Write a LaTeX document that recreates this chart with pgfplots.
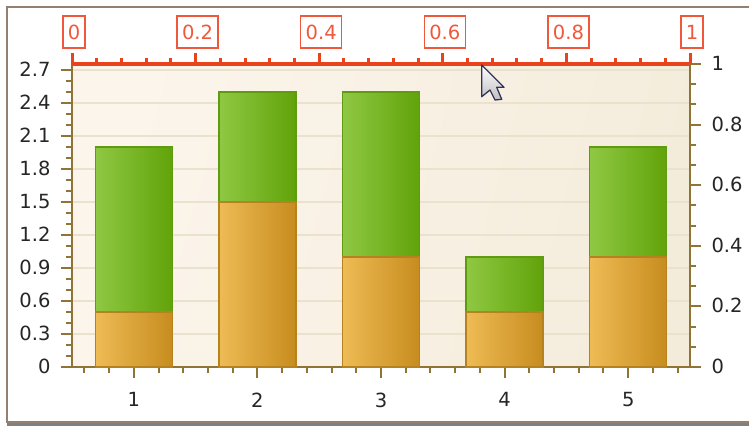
\documentclass[border=0pt]{standalone}
\usepackage{fontspec}
\setmainfont{DejaVu Sans}
\usepackage{pgfplots}
\pgfplotsset{compat=1.18}

\definecolor{axisbrown}{HTML}{8F7436}
\definecolor{gridtan}{HTML}{EAE2CC}
\definecolor{scalered}{HTML}{E8431C}
\definecolor{labelred}{HTML}{F0583C}
\definecolor{greenL}{HTML}{8FC843}
\definecolor{greenR}{HTML}{61A30A}
\definecolor{greenE}{HTML}{5F9A10}
\definecolor{orangeL}{HTML}{EEBB55}
\definecolor{orangeR}{HTML}{C78C1E}
\definecolor{orangeE}{HTML}{B6821F}
\definecolor{bgA}{HTML}{FCF5EC}
\definecolor{bgB}{HTML}{F4ECDB}
\definecolor{frameline}{HTML}{957F6E}

\pgfplotsset{
  panel/.style={
    scale only axis, width=618pt, height=303pt,
    at={(72pt,59pt)}, anchor=south west,
    /pgf/number format/assume math mode=true,
    tick align=outside,
    major tick length=11pt, minor tick length=6pt,
    ticklabel style={font=\fontsize{19.5}{22}\selectfont, text=black!85},
  },
  % each bar is its own plot so that it carries its own left-to-right shading
  upper/.style={draw=greenE, line width=1.5pt, left color=greenL, right color=greenR},
  lower/.style={draw=orangeE, line width=1.5pt, left color=orangeL, right color=orangeR},
}

\begin{document}
\begin{tikzpicture}[x=1pt,y=1pt]
  \path[use as bounding box] (0,0) rectangle (749,426);
  % panel frame with its soft lower edge
  \fill[black!50] (7,0) rectangle (760,5);
  \fill[white] (7,4) rectangle (760,419);
  \draw[frameline,line width=1.6pt] (760,4) -- (7,4) -- (7,419) -- (760,419);

  % bars on the primary axes: stack totals first, lower segments over them
  \begin{axis}[panel,
    axis x line*=bottom, axis y line*=left,
    axis line style={-, draw=axisbrown, line width=2pt},
    every tick/.style={draw=axisbrown, line width=2pt},
    minor tick style={draw=axisbrown, line width=2pt},
    xmin=0.5, xmax=5.5, ymin=0, ymax=2.7545,
    xtick={1,2,3,4,5},
    minor xtick={0.6,0.8,1.2,1.4,1.6,1.8,2.2,2.4,2.6,2.8,3.2,3.4,3.6,3.8,4.2,4.4,4.6,4.8,5.2,5.4},
    ytick={0,0.3,0.6,0.9,1.2,1.5,1.8,2.1,2.4,2.7},
    yticklabels={0,0.3,0.6,0.9,1.2,1.5,1.8,2.1,2.4,2.7},
    minor ytick={0.1,0.2,0.4,0.5,0.7,0.8,1.0,1.1,1.3,1.4,1.6,1.7,1.9,2.0,2.2,2.3,2.5,2.6},
    xticklabel style={yshift=-11pt},
    yticklabel style={xshift=-7pt, yshift=0.5pt},
    ymajorgrids,
    grid style={draw=gridtan, line width=2pt},
    axis background/.style={left color=bgA, right color=bgB, shading angle=75},
    ybar, bar width=77pt, bar shift=0pt,
  ]
    \addplot[upper] coordinates {(1,2)};
    \addplot[upper] coordinates {(2,2.5)};
    \addplot[upper] coordinates {(3,2.5)};
    \addplot[upper] coordinates {(4,1)};
    \addplot[upper] coordinates {(5,2)};
    \addplot[lower] coordinates {(1,0.5)};
    \addplot[lower] coordinates {(2,1.5)};
    \addplot[lower] coordinates {(3,1)};
    \addplot[lower] coordinates {(4,0.5)};
    \addplot[lower] coordinates {(5,1)};
  \end{axis}

  % secondary scale: red boxed top axis and plain right axis
  \begin{axis}[panel,
    axis x line*=top, axis y line*=right,
    xmin=0, xmax=1, ymin=0, ymax=1,
    xtick={0,0.2,0.4,0.6,0.8,1},
    xticklabels={0,0.2,0.4,0.6,0.8,1},
    minor xtick={0.04,0.08,0.12,0.16,0.24,0.28,0.32,0.36,0.44,0.48,0.52,0.56,0.64,0.68,0.72,0.76,0.84,0.88,0.92,0.96},
    ytick={0,0.2,0.4,0.6,0.8,1},
    yticklabels={0,0.2,0.4,0.6,0.8,1},
    minor ytick={0.0667,0.1333,0.2667,0.3333,0.4667,0.5333,0.6667,0.7333,0.8667,0.9333},
    x axis line style={-, draw=scalered, line width=3.5pt},
    y axis line style={-, draw=axisbrown, line width=2pt},
    x tick style={draw=scalered, line width=3pt},
    minor x tick style={draw=scalered, line width=3pt},
    y tick style={draw=axisbrown, line width=2pt},
    minor y tick style={draw=axisbrown, line width=2pt},
    xticklabel style={draw=labelred, line width=1.5pt, fill=white, text=labelred,
      minimum height=32pt, inner xsep=5pt, inner ysep=0pt, xshift=2pt, yshift=4pt,
      text height=14pt, text depth=0pt},
    yticklabel style={xshift=7pt, yshift=0.5pt},
  ]
  \end{axis}

  % pointer resting on the top scale
  \draw[draw=black!70!blue!60!gray, line width=1.3pt, line join=round,
        top color=white, bottom color=black!25]
    (481.7,361) -- (481.7,329.3) -- (490,336) -- (495,326) -- (501.7,326.7)
    -- (496.7,338.7) -- (504,338.7) -- cycle;
\end{tikzpicture}
\end{document}
